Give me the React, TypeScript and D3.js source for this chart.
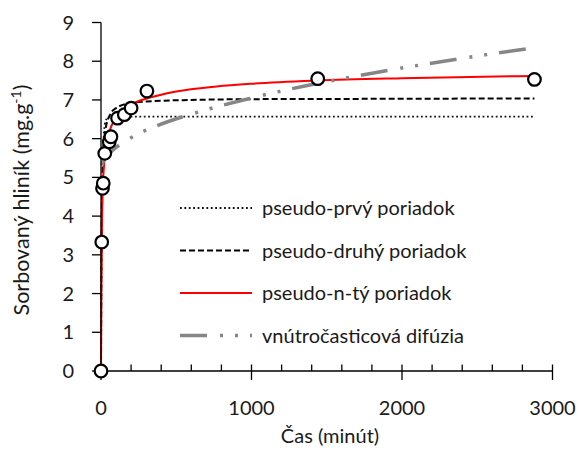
import React from "react";
import * as d3 from "d3";

// measured points (time in minutes, sorbed Al in mg/g)
const obsTime = [0, 5, 10, 15, 25, 55, 66, 110, 155, 200, 305, 1440, 2880];
const obsQ = [0, 3.33, 4.72, 4.85, 5.62, 5.92, 6.05, 6.53, 6.62, 6.79, 7.23, 7.55, 7.53];

// fitted curves
const pfoTime = [0, 2, 5, 10, 15, 20, 30, 45, 60, 100, 2880];
const pfoQ = [0, 1.63, 3.33, 4.9, 5.75, 6.18, 6.45, 6.54, 6.57, 6.57, 6.57];

const psoTime = [0, 2, 5, 10, 15, 30, 60, 100, 200, 300, 600, 1000, 2000, 2880];
const psoQ = [0, 2.4, 3.96, 5.07, 5.6, 6.24, 6.62, 6.79, 6.92, 6.96, 7.0, 7.02, 7.03, 7.04];

const pnoTime = [0, 2, 5, 10, 20, 30, 50, 100, 200, 325, 500, 768, 1000, 1432, 2000, 2880];
const pnoQ = [0, 2.0, 3.4, 4.55, 5.3, 5.7, 6.1, 6.55, 6.88, 7.06, 7.22, 7.35, 7.42, 7.5, 7.56, 7.62];

const ipdTime = [5, 15, 30, 84, 161, 250, 350, 657, 990, 1255, 1673, 2118, 2561, 2880];
const ipdQ = [5.31, 5.41, 5.5, 5.72, 5.93, 6.13, 6.3, 6.7, 7.04, 7.28, 7.6, 7.9, 8.17, 8.35];

const xTicks = [0, 1000, 2000, 3000];
const xMinorTicks = [200, 400, 600, 800, 1200, 1400, 1600, 1800, 2200, 2400, 2600, 2800];
const yTicks = [0, 1, 2, 3, 4, 5, 6, 7, 8, 9];

const legendLabels = [
  "pseudo-prvý poriadok",
  "pseudo-druhý poriadok",
  "pseudo-n-tý poriadok",
  "vnútročasticová difúzia",
];

const FONT = "Lato, 'Open Sans', sans-serif";

const W = 584;
const H = 450;
const margin = { left: 101, right: 31.5, top: 22.5, bottom: 79 };

const App = () => {
  const x = d3
    .scaleLinear()
    .domain([0, 3000])
    .range([margin.left, W - margin.right]);
  const y = d3
    .scaleLinear()
    .domain([0, 9])
    .range([H - margin.bottom, margin.top]);

  const line = d3
    .line<[number, number]>()
    .x((d) => x(d[0]))
    .y((d) => y(d[1]))
    .curve(d3.curveMonotoneX);

  const zip = (ts: number[], qs: number[]) =>
    ts.map((t, i) => [t, qs[i]] as [number, number]);

  const series = [
    { data: zip(pfoTime, pfoQ), stroke: "#111", width: 1.8, dash: "1.8,2.6" },
    { data: zip(psoTime, psoQ), stroke: "#000", width: 2, dash: "6,3" },
    { data: zip(pnoTime, pnoQ), stroke: "#ff0000", width: 2, dash: null },
    { data: zip(ipdTime, ipdQ), stroke: "#868686", width: 3.5, dash: "27,13,3,12,3,12" },
  ];

  const x0 = x(0);
  const y0 = y(0);

  return (
    <svg
      width={W}
      height={H}
      style={{ position: "absolute", left: 0, top: 0, background: "#fff" }}
      fontFamily={FONT}
      fill="#1a1a1a"
    >
      {/* legend */}
      <g>
        {legendLabels.map((lab, i) => {
          const ly = 208 + i * 42.5;
          const s = series[i];
          return (
            <g key={lab}>
              <line
                x1={180}
                x2={252}
                y1={ly}
                y2={ly}
                stroke={s.stroke}
                strokeWidth={s.width}
                strokeDasharray={s.dash ?? undefined}
              />
              <text x={262} y={ly + 7} fontSize={20}>
                {lab}
              </text>
            </g>
          );
        })}
      </g>

      {/* curves */}
      {series.map((s, i) => (
        <path
          key={i}
          d={line(s.data) ?? ""}
          fill="none"
          stroke={s.stroke}
          strokeWidth={s.width}
          strokeDasharray={s.dash ?? undefined}
        />
      ))}

      {/* axes */}
      <g stroke="#000" strokeWidth={1.3}>
        <line x1={x0} x2={x(3000)} y1={y0} y2={y0} />
        <line x1={x0} x2={x0} y1={y0} y2={y(9)} />
        {xTicks.map((t) => (
          <line key={t} x1={x(t)} x2={x(t)} y1={y0 - 6.5} y2={y0 + 9} />
        ))}
        {xMinorTicks.map((t) => (
          <line key={t} x1={x(t)} x2={x(t)} y1={y0 - 6.5} y2={y0} />
        ))}
        {yTicks.map((t) => (
          <line key={t} x1={x0 - 9} x2={x0} y1={y(t)} y2={y(t)} />
        ))}
      </g>

      {/* observed points */}
      {obsTime.map((t, i) => (
        <circle
          key={i}
          cx={x(t)}
          cy={y(obsQ[i])}
          r={6.3}
          fill="#fff"
          stroke="#000"
          strokeWidth={2.2}
        />
      ))}

      {/* tick labels */}
      {xTicks.map((t) => (
        <text key={t} x={x(t)} y={415} textAnchor="middle" fontSize={20}>
          {t}
        </text>
      ))}
      {yTicks.map((t) => (
        <text key={t} x={74} y={y(t) + 7} textAnchor="end" fontSize={20}>
          {t}
        </text>
      ))}

      {/* axis titles */}
      <text x={330} y={443} textAnchor="middle" fontSize={20}>
        Čas (minút)
      </text>
      <text
        transform="translate(29,200) rotate(-90)"
        textAnchor="middle"
        fontSize={21.5}
      >
        Sorbovaný hliník (mg.g
        <tspan dy={-8} fontSize={14}>
          -1
        </tspan>
        <tspan dy={8}>)</tspan>
      </text>
    </svg>
  );
};

export default App;
